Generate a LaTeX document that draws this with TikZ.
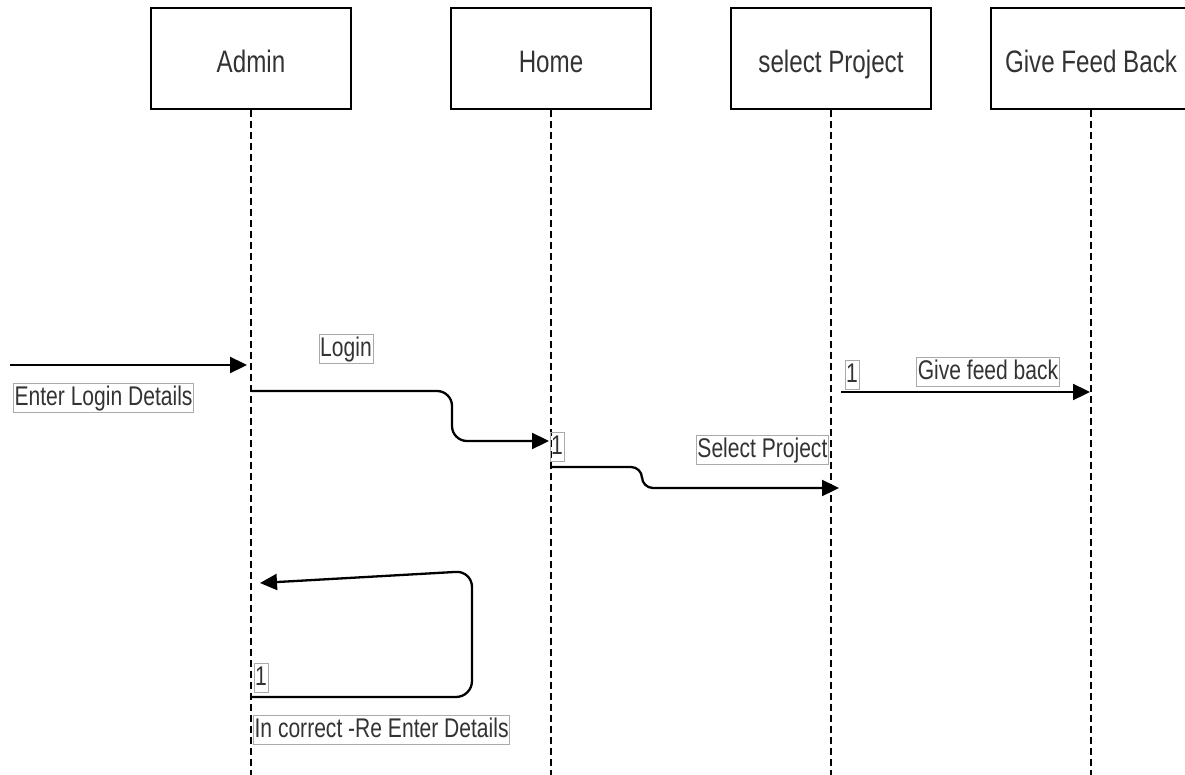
\documentclass[tikz,border=0pt]{standalone}
\usepackage{fontspec}
\setmainfont{Liberation Sans}[FakeStretch=0.78]
\usetikzlibrary{arrows.meta}
\definecolor{txt}{HTML}{333333}
\definecolor{lbl}{HTML}{AAAAAA}
\begin{document}
\begin{tikzpicture}[x=1pt,y=-1pt,
  actor/.style={draw=black,line width=1.6pt,minimum width=200pt,minimum height=101pt,
    font=\fontsize{31}{36}\selectfont,text=txt,fill=white,inner sep=0pt,text height=35pt,text depth=6pt},
  life/.style={dash pattern=on 7pt off 4pt,line width=1.3pt},
  msg/.style={line width=2.3pt,-{Triangle[length=17pt,width=16pt]}},
  lab/.style={draw=lbl,line width=0.8pt,inner xsep=1.2pt,inner ysep=0pt,font=\fontsize{27}{30}\selectfont,
    text=txt,text height=22pt,text depth=7pt}]
\useasboundingbox (0,0) rectangle (1185,775);
\fill[white] (0,0) rectangle (1185,775);

% actors
\node[actor] (admin) at (251,58.5) {Admin};
\node[actor] (home) at (551,58.5) {Home};
\node[actor] (sel) at (831,58.5) {select Project};
\node[actor] (give) at (1091,58.5) {Give Feed Back};

% lifeline ends
\coordinate (adminE) at (251,775);
\coordinate (homeE) at (551,775);
\coordinate (selE) at (831,775);
\coordinate (giveE) at (1091,775);
\draw[life] (admin.south) -- (adminE);
\draw[life] (home.south) -- (homeE);
\draw[life] (sel.south) -- (selE);
\draw[life] (give.south) -- (giveE);

% message points
\coordinate (in0) at (10,365);
\coordinate (in1) at (247,365);
\coordinate (l0) at (251,391);
\coordinate (l1) at (549,441);
\coordinate (s0) at (551,467);
\coordinate (s1) at (839,488);
\coordinate (g0) at (841,392);
\coordinate (g1) at (1090,392);
\coordinate (r0) at (251,697);
\coordinate (r1) at (260,583);

% messages
\draw[msg] (in0) -- (in1);
\draw[msg,rounded corners=15pt] (l0) -- (452,391) -- (452,441) -- (l1);
\draw[msg,rounded corners=11pt] (s0) -- (642,467) -- (642,488) -- (s1);
\draw[msg] (g0) -- (g1);
\draw[msg,rounded corners=16pt] (r0) -- (472,697) -- (472,571) -- (r1);

% labels
\node[lab,anchor=west] (tEnter) at (13,398) {Enter Login Details};
\node[lab] (tLogin) at (346,349) {Login};
\node[lab] (t1a) at (557,447) {1};
\node[lab,anchor=east] (tSel) at (829,450) {Select Project};
\node[lab] (t1b) at (852,375) {1};
\node[lab] (tGive) at (988,372) {Give feed back};
\node[lab] (t1c) at (261,678) {1};
\node[lab,anchor=west] (tRe) at (253,730) {In correct -Re Enter Details};
\end{tikzpicture}
\end{document}
